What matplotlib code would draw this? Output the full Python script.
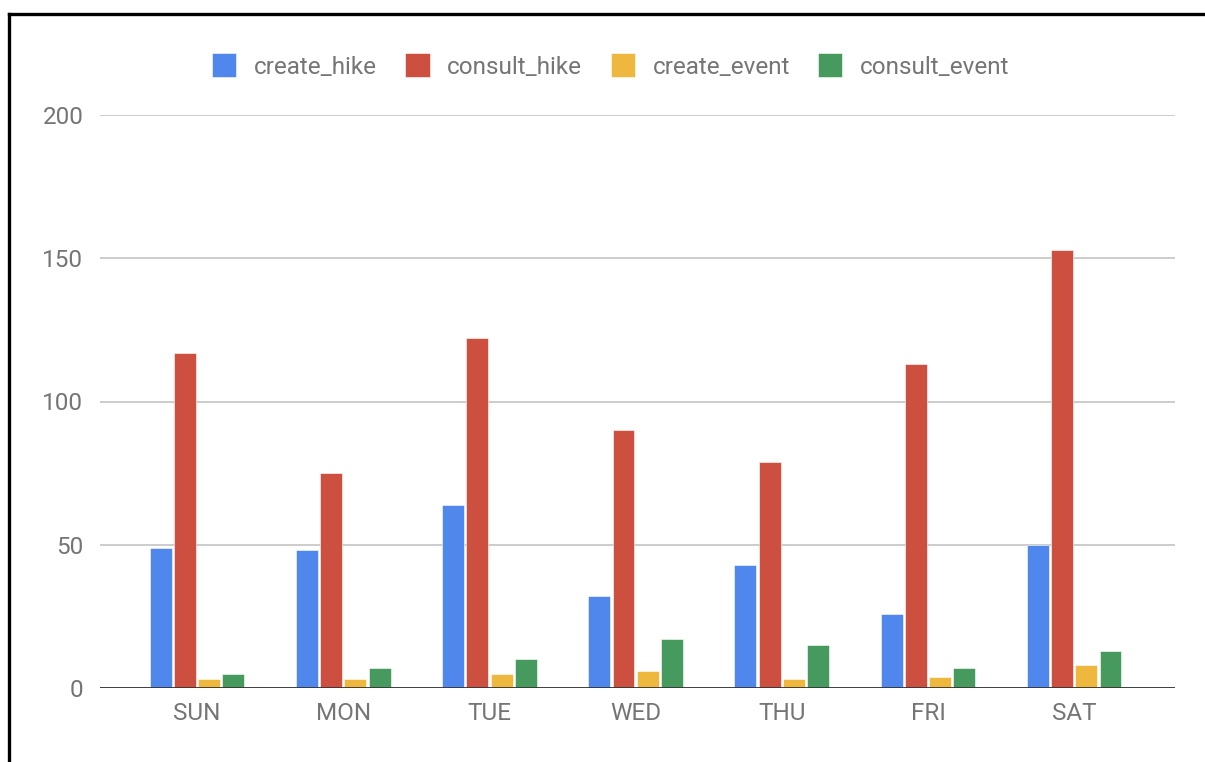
import matplotlib
matplotlib.use("Agg")
import matplotlib.pyplot as plt
import numpy as np

days = ["SUN", "MON", "TUE", "WED", "THU", "FRI", "SAT"]
create_hike = [49, 48, 64, 32, 43, 26, 50]
consult_hike = [117, 75, 122, 90, 79, 113, 153]
create_event = [3, 3, 5, 6, 3, 4, 8]
consult_event = [5, 7, 10, 17, 15, 7, 13]

series_names = ["create_hike", "consult_hike", "create_event", "consult_event"]
series_values = [create_hike, consult_hike, create_event, consult_event]
colors = ["#5087EC", "#CC4F3F", "#EDB83D", "#469A5E"]
y_ticks = [0, 50, 100, 150, 200]

plt.rcParams["font.family"] = ["Roboto", "DejaVu Sans"]
text_color = "#757575"

fig = plt.figure(figsize=(12.05, 7.62), dpi=100)
ax = fig.add_axes([100 / 1205, 1 - 688 / 762, 1075 / 1205, 573 / 762])

x = np.arange(len(days))
step = 0.166
width = 0.15
handles = []
for i, (name, vals, col) in enumerate(zip(series_names, series_values, colors)):
    b = ax.bar(x + (i - 1.5) * step, vals, width=width, color=col,
               edgecolor="white", linewidth=0.4, zorder=3, label=name)
    handles.append(b)

ax.set_xlim(-0.664, 6.69)
ax.set_ylim(0, 200)
ax.set_yticks(y_ticks)
ax.set_yticklabels([str(v) for v in y_ticks])
ax.set_xticks(x)
ax.set_xticklabels(days)

ax.grid(axis="y", color="#CCCCCC", linewidth=1.4, zorder=0)
ax.axhline(0, color="#333333", linewidth=2, zorder=4)
for s in ax.spines.values():
    s.set_visible(False)
ax.tick_params(axis="both", length=0, labelsize=17.5, labelcolor=text_color)
ax.tick_params(axis="y", pad=12)
ax.tick_params(axis="x", pad=10)

leg = fig.legend(handles=handles, labels=series_names, loc="center",
                 bbox_to_anchor=(611 / 1205, 1 - 67 / 762), ncol=4,
                 frameon=False, fontsize=17.5, handlelength=1.0,
                 handleheight=1.0, handletextpad=0.72, columnspacing=1.17,
                 labelcolor=text_color)
for h in leg.legend_handles:
    h.set_width(17.3)
    h.set_height(17.3)
    h.set_y(-2.2)

# frame lines along the top and left edges
fig.add_artist(plt.Line2D([8.5 / 1205, 1.0], [1 - 13.5 / 762, 1 - 13.5 / 762],
                          transform=fig.transFigure, color="black", linewidth=2.4))
fig.add_artist(plt.Line2D([8.5 / 1205, 8.5 / 1205], [0.0, 1 - 13.5 / 762],
                          transform=fig.transFigure, color="black", linewidth=2.4))

fig.savefig("out.png", dpi=100)
